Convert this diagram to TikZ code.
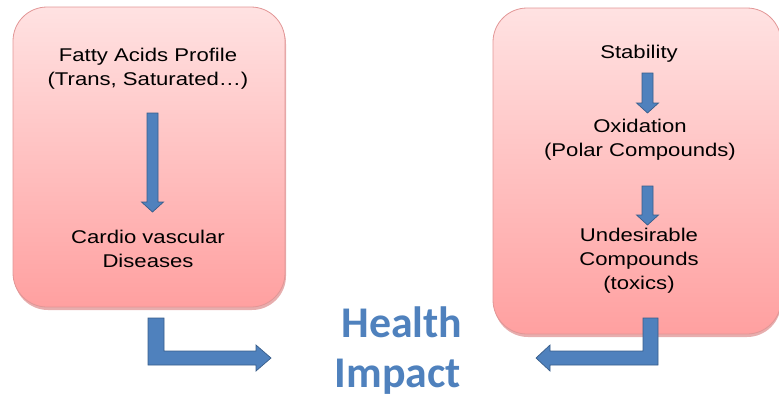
\documentclass[tikz,border=0pt]{standalone}
\usepackage{fontspec}
\setmainfont[FakeStretch=1.2]{Liberation Sans}
\newfontfamily\headfont{Carlito}
\usetikzlibrary{calc}
\definecolor{pinktop}{RGB}{255,226,226}
\definecolor{pinkbot}{RGB}{255,160,160}
\definecolor{pinkline}{RGB}{226,150,150}
\definecolor{pinkshadow}{RGB}{215,120,120}
\definecolor{arrowblue}{RGB}{79,129,189}
\definecolor{arrowline}{RGB}{56,93,138}
\tikzset{
  panel/.style={rounded corners=34bp, top color=pinktop, bottom color=pinkbot, draw=pinkline, line width=0.8bp},
  panelshadow/.style={rounded corners=34bp, fill=pinkshadow, opacity=0.6},
  label/.style={align=center, inner sep=0pt, font=\fontsize{18.5}{24}\selectfont},
  blockarrow/.style={fill=arrowblue, draw=arrowline, line width=0.7bp, line join=miter},
  headline/.style={inner sep=0pt, text=arrowblue, font=\headfont\bfseries\fontsize{44}{50}\selectfont}
}
% block arrow pointing down: #1 top of shaft, #2 tip
\newcommand{\downblock}[2]{%
\draw[blockarrow] ($(#1)+(-5.5,0)$) -- ($(#1)+(5.5,0)$) -- ($(#2)+(5.5,-10)$) -- ($(#2)+(11,-10)$)
  -- (#2) -- ($(#2)+(-11,-10)$) -- ($(#2)+(-5.5,-10)$) -- cycle;}
\begin{document}
\begin{tikzpicture}[x=1bp,y=-1bp]
\useasboundingbox (0,0) rectangle (779,397);

% the two panels
\fill[panelshadow] (14,10) rectangle (286,310);
\draw[panel] (13,7) rectangle (285,307);
\fill[panelshadow] (494,11) rectangle (781,337);
\draw[panel] (493,8) rectangle (781,334);

% left panel (base = last line)
\node[label, anchor=base] (fatty) at (148,85) {Fatty Acids Profile\\(Trans, Saturated\dots)};
\node[label, anchor=base] (cardio) at (148,267) {Cardio vascular\\Diseases};
\coordinate (fatty-s) at (152.5,113);
\coordinate (cardio-t) at (152.5,212);
\downblock{fatty-s}{cardio-t}

% right panel
\node[label, anchor=base] (stab) at (639,58) {Stability};
\node[label, anchor=base] (oxi) at (640,156) {Oxidation\\(Polar Compounds)};
\node[label, anchor=base] (undes) at (639,289) {Undesirable\\Compounds\\(toxics)};
\coordinate (stab-s) at (647.5,73);
\coordinate (oxi-t) at (647.5,113);
\coordinate (oxi-s) at (647.5,186);
\coordinate (undes-t) at (647.5,225);
\downblock{stab-s}{oxi-t}
\downblock{oxi-s}{undes-t}

% centre
\node[headline, anchor=base] (health) at (402,337) {Health};
\node[headline, anchor=base] (impact) at (398,387) {Impact};

% bent arrows towards the centre
\coordinate (lbend) at (156,318);
\coordinate (ltip) at (271,358);
\draw[blockarrow] ($(lbend)+(-8,0)$) -- ($(lbend)+(8,0)$) -- ($(lbend)+(8,33)$) -- ($(ltip)+(-15,-7)$)
  -- ($(ltip)+(-15,-13)$) -- (ltip) -- ($(ltip)+(-15,13)$) -- ($(ltip)+(-15,7)$) -- ($(lbend)+(-8,47)$) -- cycle;
\coordinate (rbend) at (650.5,318);
\coordinate (rtip) at (536,358);
\draw[blockarrow] ($(rbend)+(7.5,0)$) -- ($(rbend)+(-7.5,0)$) -- ($(rbend)+(-7.5,33)$) -- ($(rtip)+(14,-7)$)
  -- ($(rtip)+(14,-13)$) -- (rtip) -- ($(rtip)+(14,13)$) -- ($(rtip)+(14,7)$) -- ($(rbend)+(7.5,47)$) -- cycle;

\end{tikzpicture}
\end{document}
